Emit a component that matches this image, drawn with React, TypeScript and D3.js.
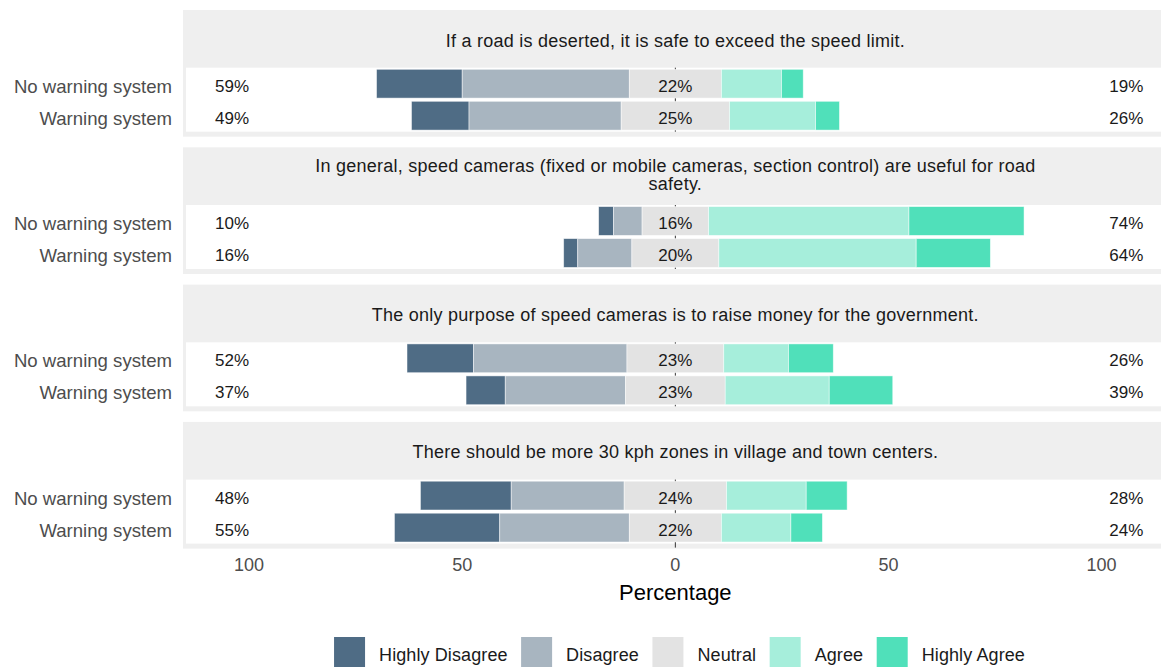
import React from "react";
import * as d3 from "d3";

const items = [
  "If a road is deserted, it is safe to exceed the speed limit.",
  "In general, speed cameras (fixed or mobile cameras, section control) are useful for road safety.",
  "The only purpose of speed cameras is to raise money for the government.",
  "There should be more 30 kph zones in village and town centers.",
];
const groups = ["No warning system", "Warning system"];
const levels = ["Highly Disagree", "Disagree", "Neutral", "Agree", "Highly Agree"];
const colors = ["#4f6c85", "#a8b5c0", "#e3e3e3", "#a6eedb", "#50e0ba"];

// values per item x group (item-major order)
const highlyDisagree = [20.1, 13.5, 3.5, 3.3, 15.6, 9.2, 21.3, 24.7];
const disagree = [39.2, 35.7, 6.7, 12.7, 36.0, 28.2, 26.5, 30.4];
const neutral = [21.6, 25.4, 15.6, 20.4, 22.7, 23.4, 24.0, 21.6];
const agree = [14.1, 20.2, 47.0, 46.3, 15.2, 24.4, 18.7, 16.3];
const highlyAgree = [5.1, 5.6, 27.0, 17.4, 10.5, 14.9, 9.6, 7.4];

const xTicks = [-100, -50, 0, 50, 100];

const W = 1161;
const H = 667;
const FONT = '"Liberation Sans", Arial, sans-serif';

function wrap(s: string, max: number): string[] {
  const words = s.split(" ");
  const lines: string[] = [];
  let cur = "";
  for (const w of words) {
    const t = cur ? cur + " " + w : w;
    if (t.length > max && cur) {
      lines.push(cur);
      cur = w;
    } else cur = t;
  }
  if (cur) lines.push(cur);
  return lines;
}

export default function App() {
  const x = d3.scaleLinear().domain([-115.5, 115.5]).range([183, 1167.7]);
  const facetTop0 = 10;
  const facetStep = 137.3;
  const stripH = 57.7;
  const panelH = 64;
  const border = 3;
  const bottomBorder = 5;

  const legendFont = 18;
  const legendLS = 0.1;
  let measure: (t: string) => number = (t) => t.length * 9;
  if (typeof document !== "undefined") {
    const ctx = document.createElement("canvas").getContext("2d");
    if (ctx) {
      ctx.font = `${legendFont}px ${FONT}`;
      measure = (t) => ctx.measureText(t).width + t.length * legendLS;
    }
  }
  const keyW = 31;
  const gapKT = 14;
  const gapItems = 13.5;
  const itemWidths = levels.map((l) => keyW + gapKT + measure(l));
  const totalW = d3.sum(itemWidths) + gapItems * (levels.length - 1);
  const legendStart = 680 - totalW / 2;
  const legendX: number[] = [];
  let acc = legendStart;
  itemWidths.forEach((w) => {
    legendX.push(acc);
    acc += w + gapItems;
  });

  return (
    <svg
      width={W}
      height={H}
      style={{ position: "absolute", left: 0, top: 0, background: "#fff" }}
      fontFamily={FONT}
    >
      {items.map((item, k) => {
        const top = facetTop0 + k * facetStep;
        const pTop = top + stripH;
        const y = d3
          .scaleBand<string>()
          .domain(groups)
          .range([pTop, pTop + panelH])
          .paddingInner(0.1)
          .paddingOuter(0.05);
        const lines = wrap(item, 88);
        const lineH = 18;
        const titleCenter = lines.length === 1 ? top + 30.5 : top + 27.7;
        return (
          <g key={k}>
            <rect
              x={x(-115.5)}
              y={top}
              width={x(115.5) - x(-115.5)}
              height={stripH + panelH + bottomBorder}
              fill="#efefef"
            />
            <rect
              x={x(-115.5) + border}
              y={pTop}
              width={x(115.5) - x(-115.5) - 2 * border}
              height={panelH}
              fill="#ffffff"
            />
            {lines.map((ln, i) => (
              <text
                key={i}
                x={x(0)}
                y={titleCenter + (i - (lines.length - 1) / 2) * lineH}
                textAnchor="middle"
                dominantBaseline="central"
                fontSize={18}
                letterSpacing={0.25}
                fill="#1a1a1a"
              >
                {ln}
              </text>
            ))}
            <line
              x1={x(0)}
              x2={x(0)}
              y1={pTop}
              y2={pTop + panelH + (k === items.length - 1 ? 4 : 0)}
              stroke="#333"
              strokeWidth={1}
            />
            {groups.map((g, gi) => {
              const idx = k * groups.length + gi;
              const hd = highlyDisagree[idx];
              const di = disagree[idx];
              const ne = neutral[idx];
              const ag = agree[idx];
              const ha = highlyAgree[idx];
              const segs = [
                [-ne / 2 - di - hd, -ne / 2 - di],
                [-ne / 2 - di, -ne / 2],
                [-ne / 2, ne / 2],
                [ne / 2, ne / 2 + ag],
                [ne / 2 + ag, ne / 2 + ag + ha],
              ];
              const by = y(g)!;
              const bh = y.bandwidth();
              const cy = by + bh / 2 + 2.5;
              return (
                <g key={g}>
                  {segs.map((s, si) => (
                    <rect
                      key={si}
                      x={x(s[0])}
                      y={by}
                      width={x(s[1]) - x(s[0])}
                      height={bh}
                      fill={colors[si]}
                      stroke="#ffffff"
                      strokeOpacity={0.6}
                      strokeWidth={0.8}
                    />
                  ))}
                  <text
                    x={x(0)}
                    y={cy}
                    textAnchor="middle"
                    dominantBaseline="central"
                    fontSize={17}
                    fill="#1a1a1a"
                  >
                    {Math.round(ne)}%
                  </text>
                  <text
                    x={x(-104)}
                    y={cy}
                    textAnchor="middle"
                    dominantBaseline="central"
                    fontSize={17}
                    fill="#1a1a1a"
                  >
                    {Math.round(hd + di)}%
                  </text>
                  <text
                    x={x(105.8)}
                    y={cy}
                    textAnchor="middle"
                    dominantBaseline="central"
                    fontSize={17}
                    fill="#1a1a1a"
                  >
                    {Math.round(ag + ha)}%
                  </text>
                  <text
                    x={172}
                    y={cy}
                    textAnchor="end"
                    dominantBaseline="central"
                    fontSize={18.6}
                    fill="#4d4d4d"
                  >
                    {g}
                  </text>
                </g>
              );
            })}
          </g>
        );
      })}
      {xTicks.map((t) => (
        <text
          key={t}
          x={x(t)}
          y={565}
          textAnchor="middle"
          dominantBaseline="central"
          fontSize={18}
          fill="#4d4d4d"
        >
          {Math.abs(t)}
        </text>
      ))}
      <text
        x={x(0)}
        y={592}
        textAnchor="middle"
        dominantBaseline="central"
        fontSize={22}
        fill="#000"
      >
        Percentage
      </text>
      {levels.map((l, i) => (
        <g key={l}>
          <rect x={legendX[i]} y={637} width={keyW} height={keyW} fill={colors[i]} />
          <text
            x={legendX[i] + keyW + gapKT}
            y={655}
            dominantBaseline="central"
            fontSize={legendFont}
            letterSpacing={legendLS}
            fill="#1a1a1a"
          >
            {l}
          </text>
        </g>
      ))}
    </svg>
  );
}
